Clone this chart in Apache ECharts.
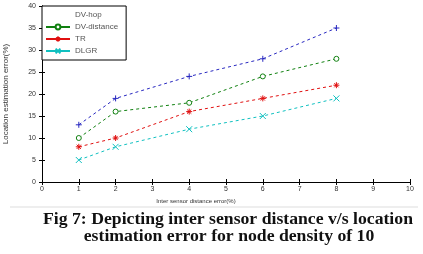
<!DOCTYPE html>
<html><head><meta charset="utf-8">
<script src="https://cdn.jsdelivr.net/npm/echarts@6/dist/echarts.min.js"></script>
<style>html,body{margin:0;padding:0;background:#fff}#c{width:423px;height:254px}</style>
</head><body><div id="c"></div>
<script>
const xValues = [1, 2, 4, 6, 8];
const seriesNames = ['DV-hop', 'DV-distance', 'TR', 'DLGR'];
const dvHop = [13, 19, 24, 28, 35];
const dvDistance = [10, 16, 18, 24, 28];
const tr = [8, 10, 16, 19, 22];
const dlgr = [5, 8, 12, 15, 19];
const xAxisTitle = 'Inter sensor distance error(%)';
const yAxisTitle = 'Location estimation error(%)';
const captionLines = ['Fig 7: Depicting inter sensor distance v/s location', 'estimation error for node density of 10'];

const colors = ['#2828c0', '#108010', '#e01010', '#10c0c0'];
const symbols = [
  'path://M5,0L5,10M0,5L10,5',
  'circle',
  'path://M5,0L5,10M0,5L10,5M1.5,1.5L8.5,8.5M8.5,1.5L1.5,8.5',
  'path://M0,0L10,10M10,0L0,10'
];
const allData = [dvHop, dvDistance, tr, dlgr];

const chart = echarts.init(document.getElementById('c'));
const font = 'Liberation Sans';
const axisCommon = {
  axisLine: {lineStyle: {color: '#000', width: 1}},
  axisTick: {inside: true, length: 3, lineStyle: {color: '#000'}},
  splitLine: {show: false}
};
chart.setOption({
  animation: false,
  grid: {left: 42, right: 13, top: 6, bottom: 72, containLabel: false, outerBoundsMode: 'none'},
  legend: {
    orient: 'vertical', left: 42, top: 6, padding: [4, 8, 4, 3],
    itemWidth: 24, itemHeight: 6, itemGap: 2,
    backgroundColor: '#fff', borderColor: '#000', borderWidth: 1, borderRadius: 0,
    textStyle: {fontFamily: font, fontSize: 8, color: '#555', lineHeight: 10},
    lineStyle: {type: 'solid'},
    data: seriesNames.map((n, i) => i === 0
      ? {name: n, itemStyle: {opacity: 0}, lineStyle: {opacity: 0}}
      : {name: n})
  },
  xAxis: [
    Object.assign({type: 'value', min: 0, max: 10, interval: 1, position: 'bottom',
      axisLabel: {fontFamily: font, fontSize: 7, color: '#333', margin: 4}}, axisCommon),
    Object.assign({type: 'value', min: 0, max: 10, interval: 1, position: 'top',
      axisLabel: {show: false}}, axisCommon)
  ],
  yAxis: [
    Object.assign({type: 'value', min: 0, max: 40, interval: 5, position: 'left',
      name: yAxisTitle, nameLocation: 'middle', nameGap: 32, nameRotate: 90,
      nameTextStyle: {fontFamily: font, fontSize: 8, color: '#333'},
      axisLabel: {fontFamily: font, fontSize: 7, color: '#333', margin: 6}}, axisCommon),
    Object.assign({type: 'value', min: 0, max: 40, interval: 5, position: 'right',
      axisLabel: {show: false}}, axisCommon)
  ],
  series: allData.map((d, i) => ({
    name: seriesNames[i], type: 'line',
    data: d.map((v, j) => [xValues[j], v]),
    symbol: symbols[i], symbolSize: i === 1 ? 5 : 6,
    showAllSymbol: true,
    lineStyle: {color: colors[i], width: 1, type: [3, 3]},
    itemStyle: {color: i === 1 ? '#fff' : 'none', borderColor: colors[i], borderWidth: 1}
  })),
  graphic: [
    {type: 'text', x: 196, y: 201, style: {text: xAxisTitle, fontFamily: font, fontSize: 6, fill: '#333', align: 'center', verticalAlign: 'middle'}},
    {type: 'line', shape: {x1: 10, y1: 207, x2: 418, y2: 207}, style: {stroke: '#ddd', lineWidth: 1}},
    {type: 'text', x: 228, y: 219, style: {text: captionLines[0], fontFamily: 'Liberation Serif', fontWeight: 'bold', fontSize: 17.7, fill: '#111', align: 'center', verticalAlign: 'middle'}},
    {type: 'text', x: 229, y: 236.5, style: {text: captionLines[1], fontFamily: 'Liberation Serif', fontWeight: 'bold', fontSize: 17.7, fill: '#111', align: 'center', verticalAlign: 'middle'}}
  ]
});
</script></body></html>
